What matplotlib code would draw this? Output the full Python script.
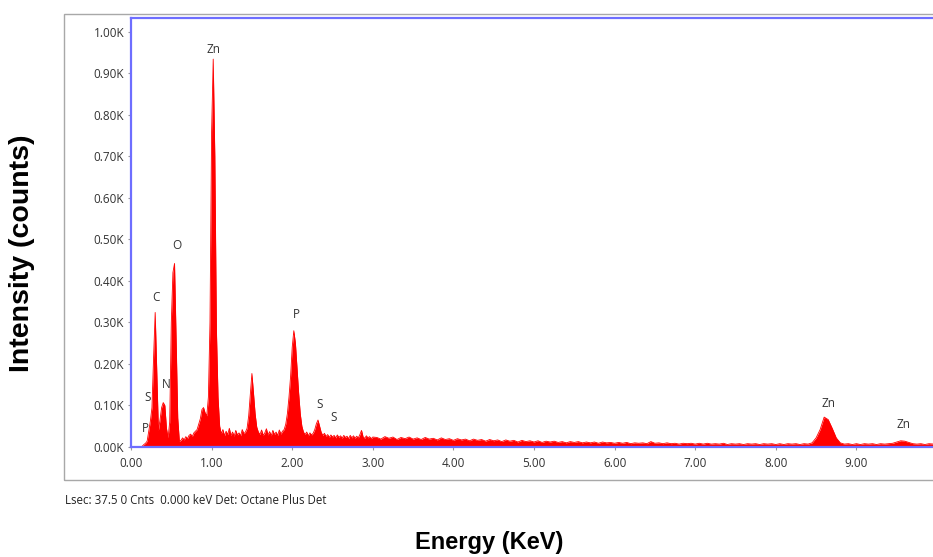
import numpy as np
import matplotlib
matplotlib.use("Agg")
import matplotlib.pyplot as plt
from matplotlib.patches import Rectangle

# ---- spectrum: 0.00-3.00 keV in 0.02 keV channels ----
energy_low = np.round(np.linspace(0.0, 3.0, 151), 2)
counts_low = [
    0, 0, 0, 0, 0, 0, 0, 2, 6, 9,                      # 0.00-0.18
    14, 38, 62, 95, 215, 324, 180, 40, 65, 95,         # 0.20-0.38
    107, 100, 45, 22, 60, 300, 420, 442, 260, 70,      # 0.40-0.58
    14, 16, 22, 17, 25, 20, 28, 31, 25, 34,            # 0.60-0.78
    38, 42, 55, 68, 90, 95, 82, 75, 120, 300,          # 0.80-0.98
    760, 934, 700, 280, 120, 50, 32, 42, 27, 38,       # 1.00-1.18
    30, 45, 28, 36, 26, 40, 29, 34, 27, 42,            # 1.20-1.38
    32, 36, 45, 75, 125, 177, 130, 80, 48, 36,         # 1.40-1.58
    30, 41, 28, 34, 44, 29, 37, 27, 40, 30,            # 1.60-1.78
    36, 28, 41, 31, 38, 42, 55, 80, 120, 170,          # 1.80-1.98
    240, 280, 250, 190, 130, 80, 50, 36, 30, 36,       # 2.00-2.18
    27, 34, 29, 33, 42, 56, 65, 50, 35, 28,            # 2.20-2.38
    33, 25, 30, 23, 29, 24, 28, 22, 29, 23,            # 2.40-2.58
    27, 21, 28, 23, 26, 20, 28, 22, 27, 21,            # 2.60-2.78
    26, 22, 30, 40, 24, 21, 27, 22, 25, 20,            # 2.80-2.98
    24,                                                # 3.00
]

# ---- spectrum: 3.05-10.00 keV in 0.05 keV channels ----
energy_high = np.round(np.linspace(3.05, 10.0, 140), 2)
counts_high = [
    23, 19, 25, 21, 24, 18, 23, 20, 24, 19, 22, 18, 23, 19, 21, 17, 22, 18, 20, 16,   # 3.05-4.00
    20, 17, 19, 15, 19, 16, 18, 14, 18, 15, 17, 13, 17, 14, 16, 12, 16, 13, 15, 12,   # 4.05-5.00
    15, 11, 14, 12, 14, 11, 13, 10, 13, 11, 13, 10, 12, 10, 12, 9, 12, 10, 11, 9,     # 5.05-6.00
    11, 9, 11, 8, 10, 9, 10, 8, 13, 9, 10, 8, 10, 8, 9, 7, 9, 8, 9, 7,                # 6.05-7.00
    9, 7, 9, 7, 8, 7, 9, 6, 8, 7, 8, 6, 8, 7, 8, 6, 8, 7, 8, 6,                       # 7.05-8.00
    8, 6, 8, 7, 8, 6, 8, 7, 10, 22, 42, 72, 66, 45, 22, 10, 7, 8, 6, 8,               # 8.05-9.00
    6, 8, 7, 8, 6, 8, 7, 8, 9, 12, 15, 14, 11, 8, 7, 8, 6, 8, 7, 7,                   # 9.05-10.00
]

# ---- element labels (keV, counts) ----
peak_names = ["P", "S", "C", "N", "O", "Zn", "P", "S", "S", "Zn", "Zn"]
peak_x = [0.178, 0.202, 0.31, 0.434, 0.567, 1.02, 2.055, 2.345, 2.51, 8.66, 9.59]
peak_y = [44, 119, 361, 151, 484, 957, 320, 103, 72, 105, 53]

x_ticks = [0, 1, 2, 3, 4, 5, 6, 7, 8, 9]
y_ticks = [0, 100, 200, 300, 400, 500, 600, 700, 800, 900, 1000]

energy = np.concatenate([energy_low, energy_high])
counts = np.array(counts_low + counts_high, dtype=float)

W, H = 933, 557
fig = plt.figure(figsize=(W / 100, H / 100), dpi=100)
fig.patch.set_facecolor("white")

# light grey panel frame around the spectrum window
frame = Rectangle((64 / W, 1 - 480 / H), 900 / W, (480 - 14) / H,
                  transform=fig.transFigure, fill=False,
                  edgecolor="#a8a8a8", linewidth=1.0)
fig.patches.append(frame)

ax = fig.add_axes([131 / W, 1 - 447 / H, 806 / W, 429 / H])
ax.set_facecolor("white")

ax.fill_between(energy, counts, 0, color="#ff0000", linewidth=0, zorder=1)
ax.plot(energy, counts, color="#ff0000", linewidth=0.6, zorder=1)

ax.set_xlim(0, 10)
ax.set_ylim(0, 1033)

label_font = "Open Sans"
text_color = "#333333"

ax.set_xticks(x_ticks)
ax.set_xticklabels([f"{v:.2f}" for v in x_ticks], fontsize=8.5,
                   family=label_font, color=text_color)
ax.set_yticks(y_ticks)
ax.set_yticklabels([f"{v / 1000:.2f}K" for v in y_ticks], fontsize=8.5,
                   family=label_font, color=text_color)
ax.tick_params(axis="both", length=2, width=0.8, color="#999999", pad=3)
ax.tick_params(axis="x", pad=5)

blue = "#6e6eff"
for side in ("top", "left", "bottom"):
    ax.spines[side].set_color(blue)
    ax.spines[side].set_linewidth(1.6)
ax.spines["right"].set_visible(False)

for name, ex, ey in zip(peak_names, peak_x, peak_y):
    ax.text(ex, ey, name, ha="center", va="center", fontsize=8.5,
            family=label_font, color=text_color)

fig.text(65 / W, 1 - 500 / H, "Lsec: 37.5 0 Cnts  0.000 keV Det: Octane Plus Det",
         ha="left", va="center", fontsize=8.3, family=label_font, color="#222222")

fig.text(489 / W, 1 - 542 / H, "Energy (KeV)", ha="center", va="center",
         fontsize=17, fontweight="bold", family="Liberation Sans", color="black")
fig.text(22 / W, 1 - 253 / H, "Intensity (counts)", ha="center", va="center",
         rotation=90, fontsize=20.5, fontweight="bold", family="Liberation Sans",
         color="black")

fig.savefig("out.png", dpi=100, facecolor="white")
